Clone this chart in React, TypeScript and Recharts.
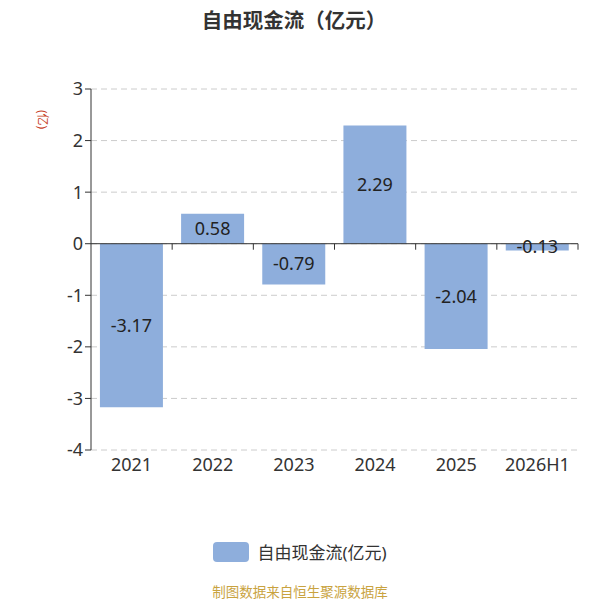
import { Bar, BarChart, CartesianGrid, LabelList, ReferenceLine, XAxis, YAxis } from "recharts";

const years = ["2021", "2022", "2023", "2024", "2025", "2026H1"];
const cashFlow = [-3.17, 0.58, -0.79, 2.29, -2.04, -0.13];
const yTicks = [-4, -3, -2, -1, 0, 1, 2, 3];

const data = years.map((year, i) => ({ year, value: cashFlow[i] }));

const FONT = "'Noto Sans', 'Noto Sans CJK SC', sans-serif";
const BAR_COLOR = "#8eaedc";

// zero line with tick marks at the category boundaries
function ZeroAxis(props: any) {
  const { x1, x2, y1 } = props;
  const band = (x2 - x1) / years.length;
  return (
    <g>
      <line x1={x1} y1={y1} x2={x2} y2={y1} stroke="#333" strokeWidth={1} />
      {years.map((_, i) => {
        const x = x1 + band * (i + 1);
        return <line key={i} x1={x} y1={y1} x2={x} y2={y1 + 6} stroke="#333" />;
      })}
    </g>
  );
}

export default function App() {
  return (
    <div style={{ position: "absolute", left: 0, top: 0, width: 600, height: 600, fontFamily: FONT, background: "#fff" }}>
      <div style={{ position: "absolute", top: 4, left: 0, width: 588, textAlign: "center", fontSize: 20.5, fontWeight: 700, color: "#333" }}>
        自由现金流（亿元）
      </div>
      <div
        style={{
          position: "absolute",
          left: 52,
          top: 110,
          fontSize: 12,
          color: "#c8432b",
          transform: "rotate(90deg)",
          transformOrigin: "left top",
          whiteSpace: "nowrap",
        }}
      >
        (亿)
      </div>
      <BarChart
        width={600}
        height={600}
        data={data}
        margin={{ top: 89, right: 22, bottom: 120, left: 0 }}
        barCategoryGap="11%"
      >
        <CartesianGrid vertical={false} stroke="#ccc" strokeDasharray="6 4" />
        <XAxis
          dataKey="year"
          axisLine={false}
          tickLine={false}
          height={30}
          tick={{ fontSize: 18, fill: "#333", fontFamily: FONT }}
        />
        <YAxis
          width={91}
          domain={[-4, 3]}
          ticks={yTicks}
          interval={0}
          stroke="#333"
          tickLine={{ stroke: "#333" }}
          tick={{ fontSize: 18, fill: "#333", fontFamily: FONT }}
        />
        <Bar dataKey="value" fill={BAR_COLOR} isAnimationActive={false}>
          <LabelList dataKey="value" position="center" fill="#222" fontSize={18} fontFamily={FONT} />
        </Bar>
        <ReferenceLine y={0} shape={ZeroAxis} />
      </BarChart>
      <div style={{ position: "absolute", top: 539, left: 0, width: 600, display: "flex", justifyContent: "center", alignItems: "center" }}>
        <div style={{ width: 36, height: 20, borderRadius: 4, background: BAR_COLOR, marginRight: 8 }} />
        <span style={{ fontSize: 17, color: "#333" }}>自由现金流(亿元)</span>
      </div>
      <div style={{ position: "absolute", top: 581, left: 0, width: 600, textAlign: "center", fontSize: 13.5, color: "#c9a33f" }}>
        制图数据来自恒生聚源数据库
      </div>
    </div>
  );
}
